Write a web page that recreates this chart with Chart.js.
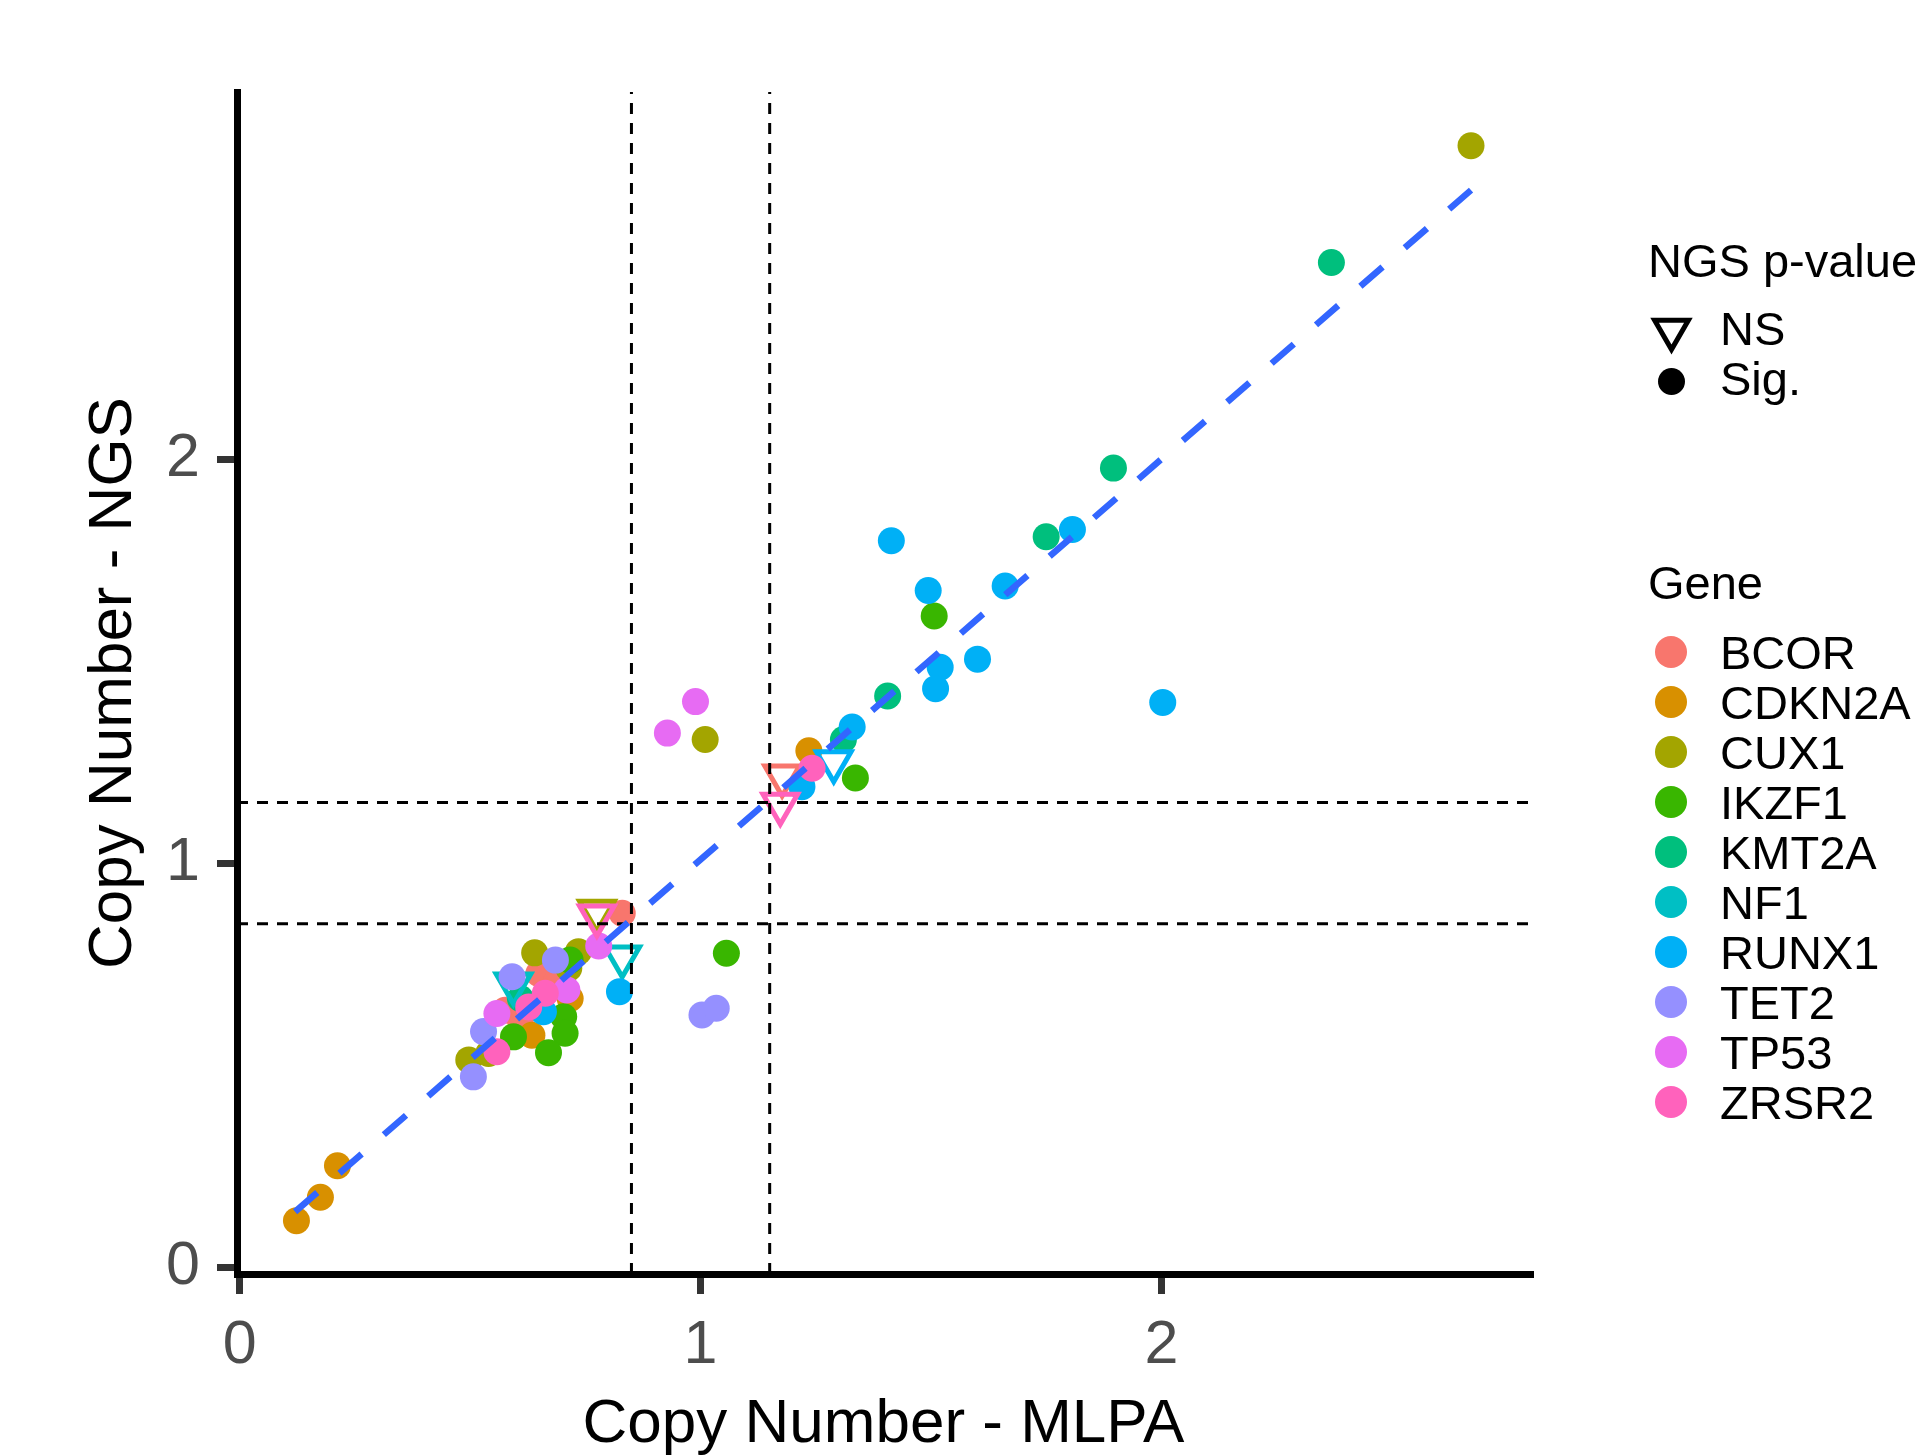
<!DOCTYPE html>
<html>
<head>
<meta charset="utf-8">
<title>Copy Number - NGS vs MLPA</title>
<script src="https://cdn.jsdelivr.net/npm/chart.js@4.4.1/dist/chart.umd.min.js"></script>
<style>
  html, body { margin: 0; padding: 0; background: #fff; overflow: hidden; }
  #wrap { position: relative; width: 1916px; height: 1456px; font-family: "Liberation Sans", Arial, Helvetica, sans-serif; }
  #chart { position: absolute; left: 0; top: 0; }
  .lg { position: absolute; font-size: 47px; line-height: 47px; color: #000; white-space: nowrap; }
  .dot { position: absolute; border-radius: 50%; }
</style>
</head>
<body>
<div id="wrap">
  <canvas id="chart" width="1916" height="1456"></canvas>
  <div id="legend"></div>
</div>
<script>
// genes (legend order) and their ggplot hue colours
const genes = ['BCOR', 'CDKN2A', 'CUX1', 'IKZF1', 'KMT2A', 'NF1', 'RUNX1', 'TET2', 'TP53', 'ZRSR2'];
const geneColors = ['#F8766D', '#D89000', '#A3A500', '#39B600', '#00BF7D', '#00BFC4', '#00B0F6', '#9590FF', '#E76BF3', '#FF62BC'];

// one entry per sample: gene, MLPA copy number, NGS copy number, NGS p-value group
const pointGene = [
  'BCOR', 'BCOR', 'BCOR', 'BCOR', 'BCOR', 'BCOR',
  'CDKN2A', 'CDKN2A', 'CDKN2A', 'CDKN2A', 'CDKN2A', 'CDKN2A',
  'CUX1', 'CUX1', 'CUX1', 'CUX1', 'CUX1', 'CUX1', 'CUX1', 'CUX1',
  'IKZF1', 'IKZF1', 'IKZF1', 'IKZF1', 'IKZF1', 'IKZF1', 'IKZF1', 'IKZF1',
  'KMT2A', 'KMT2A', 'KMT2A', 'KMT2A', 'KMT2A', 'KMT2A',
  'NF1', 'NF1',
  'RUNX1', 'RUNX1', 'RUNX1', 'RUNX1', 'RUNX1', 'RUNX1', 'RUNX1', 'RUNX1', 'RUNX1', 'RUNX1', 'RUNX1', 'RUNX1', 'RUNX1',
  'TET2', 'TET2', 'TET2', 'TET2', 'TET2', 'TET2',
  'TP53', 'TP53', 'TP53', 'TP53', 'TP53',
  'ZRSR2', 'ZRSR2', 'ZRSR2', 'ZRSR2', 'ZRSR2', 'ZRSR2'
];
const mlpaCN = [
  0.830, 1.177, 0.649, 0.685, 0.576, 0.609,
  0.123, 0.175, 0.212, 1.235, 0.717, 0.634,
  2.672, 1.010, 0.775, 0.640, 0.735, 0.714, 0.540, 0.497,
  1.507, 1.336, 1.056, 0.717, 0.703, 0.706, 0.670, 0.594,
  2.369, 1.896, 1.750, 1.406, 1.310, 0.609,
  0.830, 0.594,
  1.807, 1.414, 1.494, 1.661, 1.601, 1.520, 1.510, 2.003, 1.329, 1.220, 1.289, 0.824, 0.659,
  1.003, 1.034, 0.685, 0.591, 0.529, 0.507,
  0.989, 0.928, 0.779, 0.710, 0.558,
  1.242, 1.173, 0.775, 0.663, 0.627, 0.558
];
const ngsCN = [
  0.876, 1.216, 0.727, 0.702, 0.636, 0.612,
  0.115, 0.173, 0.251, 1.278, 0.665, 0.574,
  2.776, 1.306, 0.881, 0.778, 0.781, 0.740, 0.529, 0.513,
  1.612, 1.211, 0.777, 0.760, 0.620, 0.579, 0.531, 0.570,
  2.487, 1.978, 1.808, 1.414, 1.306, 0.665,
  0.768, 0.701,
  1.826, 1.798, 1.675, 1.686, 1.505, 1.485, 1.432, 1.398, 1.337, 1.189, 1.251, 0.682, 0.632,
  0.624, 0.641, 0.760, 0.719, 0.583, 0.471,
  1.400, 1.322, 0.795, 0.686, 0.628,
  1.235, 1.146, 0.869, 0.678, 0.644, 0.533
];
const ngsPValue = [
  'Sig.', 'NS', 'Sig.', 'Sig.', 'Sig.', 'Sig.',
  'Sig.', 'Sig.', 'Sig.', 'Sig.', 'Sig.', 'Sig.',
  'Sig.', 'Sig.', 'NS', 'Sig.', 'Sig.', 'Sig.', 'Sig.', 'Sig.',
  'Sig.', 'Sig.', 'Sig.', 'Sig.', 'Sig.', 'Sig.', 'Sig.', 'Sig.',
  'Sig.', 'Sig.', 'Sig.', 'Sig.', 'Sig.', 'Sig.',
  'NS', 'NS',
  'Sig.', 'Sig.', 'Sig.', 'Sig.', 'Sig.', 'Sig.', 'Sig.', 'Sig.', 'Sig.', 'Sig.', 'NS', 'Sig.', 'Sig.',
  'Sig.', 'Sig.', 'Sig.', 'Sig.', 'Sig.', 'Sig.',
  'Sig.', 'Sig.', 'Sig.', 'Sig.', 'Sig.',
  'Sig.', 'NS', 'NS', 'Sig.', 'Sig.', 'Sig.'
];
const pValueGroups = ['NS', 'Sig.'];

// cut-offs (dashed black lines) and the linear fit (blue dashed line)
const refCutoffs = [0.85, 1.15];
const fitX = [0.12, 2.672];
const fitY = [0.137, 2.666];

// axes
const xTicks = [0, 1, 2];
const yTicks = [0, 1, 2];
const xRange = [-0.006, 2.8];
const yRange = [-0.017, 2.909];

Chart.defaults.font.family = '"Liberation Sans", Arial, Helvetica, sans-serif';

const isNS = c => c.raw && c.raw.p === 'NS';

// points: one dataset per gene, shape from p-value group
const pointSets = genes.map((g, gi) => {
  const pts = [];
  pointGene.forEach((pg, i) => {
    if (pg === g) pts.push({ x: mlpaCN[i], y: ngsCN[i], p: ngsPValue[i] });
  });
  return {
    type: 'scatter',
    label: g,
    data: pts,
    order: 20 - gi,
    pointStyle: c => isNS(c) ? 'triangle' : 'circle',
    pointRadius: c => isNS(c) ? 20 : 13.5,
    pointRotation: c => isNS(c) ? 180 : 0,
    pointBackgroundColor: c => isNS(c) ? 'rgba(0,0,0,0)' : geneColors[gi],
    pointBorderColor: geneColors[gi],
    pointBorderWidth: c => isNS(c) ? 5 : 0
  };
});

const refSets = [];
refCutoffs.forEach(v => {
  const common = { type: 'line', borderColor: '#000', borderWidth: 3, borderDash: [11, 9], pointRadius: 0, fill: false, order: 1 };
  refSets.push(Object.assign({ data: [{ x: v, y: yRange[0] }, { x: v, y: yRange[1] }] }, common));
  refSets.push(Object.assign({ data: [{ x: xRange[0], y: v }, { x: xRange[1], y: v }] }, common));
});

const fitSet = {
  type: 'line',
  data: fitX.map((x, i) => ({ x: x, y: fitY[i] })),
  borderColor: '#3366FF',
  borderWidth: 6.5,
  borderDash: [29.4, 29.4],
  borderCapStyle: 'butt',
  pointRadius: 0,
  fill: false,
  order: 0
};

new Chart(document.getElementById('chart'), {
  type: 'scatter',
  data: { datasets: [fitSet].concat(refSets, pointSets) },
  options: {
    responsive: false,
    animation: false,
    events: [],
    layout: { padding: { top: 92, right: 386, left: 0, bottom: 0 } },
    plugins: { legend: { display: false }, tooltip: { enabled: false } },
    scales: {
      x: {
        type: 'linear',
        position: 'bottom',
        min: xRange[0],
        max: xRange[1],
        afterBuildTicks: s => { s.ticks = xTicks.map(v => ({ value: v })); },
        afterFit: s => { s.height = 182; },
        grid: { drawOnChartArea: false, drawTicks: true, tickLength: 20, lineWidth: 7, color: '#333333' },
        border: { display: true, color: '#000', width: 7 },
        ticks: { font: { size: 61 }, color: '#4D4D4D', padding: 16, maxRotation: 0 },
        title: { display: true, text: 'Copy Number - MLPA', color: '#000', font: { size: 62, lineHeight: 1 }, padding: { top: 0, bottom: 0 } }
      },
      y: {
        type: 'linear',
        position: 'left',
        min: yRange[0],
        max: yRange[1],
        afterBuildTicks: s => { s.ticks = yTicks.map(v => ({ value: v })); },
        afterFit: s => { s.width = 237; },
        grid: { drawOnChartArea: false, drawTicks: true, tickLength: 20, lineWidth: 7, color: '#333333' },
        border: { display: true, color: '#000', width: 7 },
        ticks: { font: { size: 61 }, color: '#4D4D4D', padding: 17 },
        title: { display: true, text: 'Copy Number - NGS', color: '#000', font: { size: 62, lineHeight: 1 }, padding: { top: 83, bottom: 0 } }
      }
    }
  }
});

// legend (two guides like ggplot: shape then colour)
const legend = document.getElementById('legend');
function addText(txt, left, baseline) {
  const d = document.createElement('div');
  d.className = 'lg';
  d.textContent = txt;
  d.style.left = left + 'px';
  d.style.top = (baseline - 40) + 'px';
  legend.appendChild(d);
}
function addDot(color, cx, cy, size) {
  const d = document.createElement('div');
  d.className = 'dot';
  d.style.background = color;
  d.style.width = size + 'px';
  d.style.height = size + 'px';
  d.style.left = (cx - size / 2) + 'px';
  d.style.top = (cy - size / 2) + 'px';
  legend.appendChild(d);
}

addText('NGS p-value', 1648, 277);
// NS: open down triangle
const tri = document.createElementNS('http://www.w3.org/2000/svg', 'svg');
tri.setAttribute('width', '60');
tri.setAttribute('height', '60');
tri.style.position = 'absolute';
tri.style.left = '1641px';
tri.style.top = '300px';
const r = 19.5, cx = 30.5, cy = 30;
const poly = document.createElementNS('http://www.w3.org/2000/svg', 'polygon');
poly.setAttribute('points', [
  (cx - r * 0.866) + ',' + (cy - r / 2),
  (cx + r * 0.866) + ',' + (cy - r / 2),
  cx + ',' + (cy + r)
].join(' '));
poly.setAttribute('fill', 'none');
poly.setAttribute('stroke', '#000');
poly.setAttribute('stroke-width', '5');
tri.appendChild(poly);
legend.appendChild(tri);
addText(pValueGroups[0], 1720, 345);
addDot('#000', 1671.7, 381.7, 27);
addText(pValueGroups[1], 1720, 395);

addText('Gene', 1648, 599);
genes.forEach((g, i) => {
  addDot(geneColors[i], 1671, 652 + 50 * i, 32);
  addText(g, 1720, 668.5 + 50 * i);
});
</script>
</body>
</html>
